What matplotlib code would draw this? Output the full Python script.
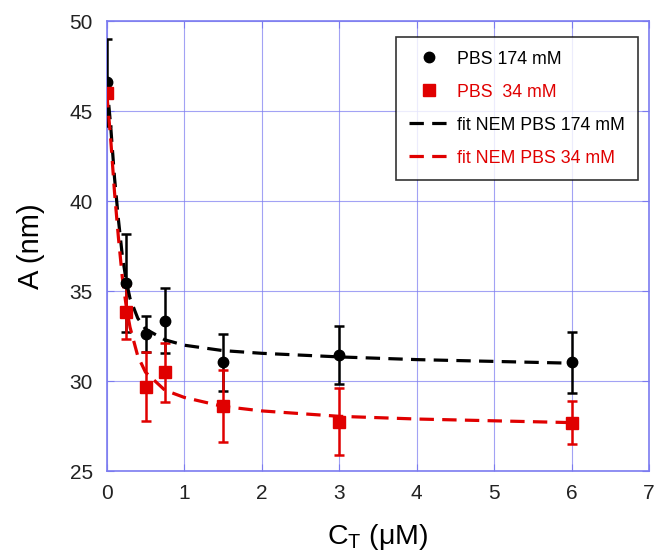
import matplotlib
matplotlib.use('Agg')
import matplotlib.pyplot as plt

plt.rcParams['font.family'] = ['Liberation Sans', 'DejaVu Sans']

# measured data
conc = [0, 0.25, 0.5, 0.75, 1.5, 3, 6]
a_174 = [46.6, 35.45, 32.6, 33.35, 31.05, 31.45, 31.05]
err_174 = [2.4, 2.7, 1.0, 1.8, 1.6, 1.6, 1.7]
a_34 = [46.0, 33.85, 29.7, 30.5, 28.6, 27.75, 27.7]
err_34 = [0.0, 1.5, 1.9, 1.65, 2.0, 1.85, 1.2]

# fitted curves
fit_x = [0, 0.05, 0.1, 0.15, 0.2, 0.25, 0.3, 0.4, 0.5, 0.75, 1, 1.5, 2, 3, 4, 5, 6]
fit_174 = [46.6, 44.2, 41.3, 39.0, 37.0, 35.6, 34.6, 33.5, 32.9, 32.3, 32.0,
           31.7, 31.55, 31.35, 31.2, 31.1, 31.0]
fit_34 = [46.0, 43.5, 40.5, 38.0, 35.8, 34.2, 33.0, 31.4, 30.5, 29.5, 29.1,
          28.6, 28.35, 28.05, 27.9, 27.8, 27.7]

red = '#e00000'
blue = '#7b7bf0'

fig = plt.figure(figsize=(6.55, 5.57), dpi=100)
ax = fig.add_axes([0.163, 0.154, 0.828, 0.808])

ax.errorbar(conc, a_174, yerr=err_174, fmt='none', ecolor='black', elinewidth=1.8,
            capsize=3.5, capthick=1.8, zorder=3)
ax.errorbar(conc, a_34, yerr=err_34, fmt='none', ecolor=red, elinewidth=1.8,
            capsize=3.5, capthick=1.8, zorder=3)
ax.plot(fit_x, fit_174, color='black', lw=2.3, dashes=(4.5, 2.6), zorder=4,
        label='fit NEM PBS 174 mM')
ax.plot(fit_x, fit_34, color=red, lw=2.3, dashes=(4.5, 2.6), zorder=4,
        label='fit NEM PBS 34 mM')
ax.plot(conc, a_174, 'o', color='black', ms=7.5, ls='none', zorder=5, label='PBS 174 mM')
ax.plot(conc, a_34, 's', color=red, ms=8, ls='none', zorder=5, label='PBS  34 mM')

ax.set_xlim(0, 7)
ax.set_ylim(25, 50)
ax.set_xticks(range(0, 8))
ax.set_yticks(range(25, 51, 5))
ax.grid(True, color=blue, lw=0.8, alpha=0.7)
ax.set_axisbelow(True)
for s in ax.spines.values():
    s.set_color(blue)
    s.set_linewidth(1.2)
ax.tick_params(direction='in', colors=blue, labelcolor='#222222', labelsize=15,
               length=5, top=True, right=True)
ax.tick_params(axis='x', pad=9)
ax.tick_params(axis='y', pad=10)

ax.set_ylabel('A (nm)', fontsize=21, labelpad=18)
ax.set_xlabel(r'C$_\mathregular{T}$ ($\mathregular{\mu}$M)', fontsize=20.5, labelpad=14)

h, l = ax.get_legend_handles_labels()
order = [2, 3, 0, 1]
leg = ax.legend([h[i] for i in order], [l[i] for i in order], loc='upper right',
                bbox_to_anchor=(0.980, 0.964), fontsize=12.8, frameon=True,
                fancybox=False, edgecolor='black', handlelength=2.25,
                handletextpad=0.45, labelspacing=0.9, borderpad=0.75,
                borderaxespad=0)
leg.get_frame().set_linewidth(1.2)
for t, c in zip(leg.get_texts(), ['black', red, 'black', red]):
    t.set_color(c)

fig.savefig('out.png', dpi=100)
